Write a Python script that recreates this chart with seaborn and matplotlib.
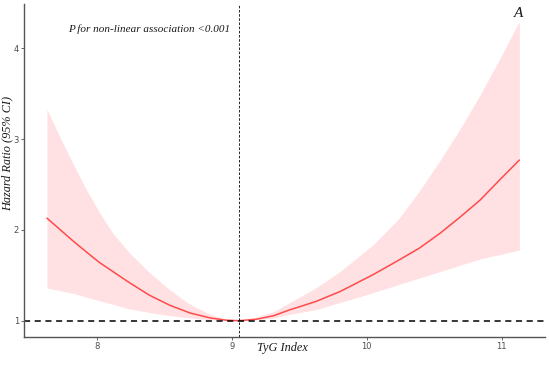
import numpy as np
import pandas as pd
import matplotlib
matplotlib.use("Agg")
import matplotlib.pyplot as plt
import seaborn as sns

# values (restricted cubic spline curve)
tyg = [7.63, 7.73, 7.83, 7.92, 8.02, 8.12, 8.24, 8.39, 8.54, 8.69, 8.84, 8.96,
       9.05, 9.18, 9.31, 9.43, 9.62, 9.80, 10.05, 10.24, 10.39, 10.54, 10.69,
       10.84, 10.99, 11.13]
hr = [2.13, 2.00, 1.87, 1.76, 1.64, 1.54, 1.42, 1.28, 1.17, 1.085, 1.03, 1.005,
      1.00, 1.015, 1.055, 1.12, 1.21, 1.32, 1.51, 1.67, 1.80, 1.96, 2.14,
      2.33, 2.56, 2.77]
ci_low = [1.36, 1.33, 1.30, 1.26, 1.22, 1.18, 1.13, 1.09, 1.055, 1.03, 1.01, 1.00,
          1.00, 1.01, 1.03, 1.07, 1.12, 1.20, 1.31, 1.40, 1.47, 1.54, 1.61,
          1.68, 1.73, 1.78]
ci_high = [3.33, 3.01, 2.71, 2.45, 2.19, 1.96, 1.75, 1.53, 1.34, 1.18, 1.07, 1.015,
           1.00, 1.04, 1.10, 1.20, 1.36, 1.54, 1.84, 2.13, 2.43, 2.76, 3.11,
           3.49, 3.90, 4.30]
ref_x = 9.055
x_ticks = [8, 9, 10, 11]
y_ticks = [1, 2, 3, 4]

df = pd.DataFrame({"TyG": tyg, "HR": hr, "lo": ci_low, "hi": ci_high})

sns.set_theme(style="ticks")
serif = ["Liberation Serif", "DejaVu Serif"]

fig = plt.figure(figsize=(5.49, 3.66), dpi=100)
ax = fig.add_axes([0.0437, 0.0792, 0.949, 0.91])

ax.fill_between(df["TyG"], df["lo"], df["hi"], color="#ffe1e4", lw=0)
sns.lineplot(data=df, x="TyG", y="HR", color="#ff4a4a", lw=1.1, ax=ax)

ax.axhline(1, color="black", lw=1.1, ls=(0, (4, 3)))
ax.axvline(ref_x, color="black", lw=0.6, ls=(0, (3, 2)))

ax.set_xlim(7.46, 11.32)
ax.set_ylim(0.82, 4.49)
ax.set_xticks(x_ticks)
ax.set_yticks(y_ticks)
ax.tick_params(labelsize=6, colors="#4d4d4d", length=2.2, width=0.6, pad=1.5)
for s in ["top", "right"]:
    ax.spines[s].set_visible(False)
for s in ["left", "bottom"]:
    ax.spines[s].set_color("#555555")
    ax.spines[s].set_linewidth(1.0)

ax.set_xlabel("TyG Index", family=serif, style="italic", fontsize=8.8, color="#1a1a1a", va="center")
ax.xaxis.set_label_coords(0.496, -0.034)
ax.set_ylabel("Hazard Ratio (95% CI)", family=serif, style="italic", fontsize=8.8, color="#1a1a1a", va="center")
ax.yaxis.set_label_coords(-0.031, 0.55)

ax.text(8.985, 4.21, "P for non-linear association <0.001", family=serif, style="italic",
        fontsize=8, ha="right", va="center", color="#1a1a1a")
ax.text(11.16, 4.38, "A", family=serif, style="italic", fontsize=11, ha="right", va="center",
        color="#1a1a1a")

fig.savefig("out.png", dpi=100)
